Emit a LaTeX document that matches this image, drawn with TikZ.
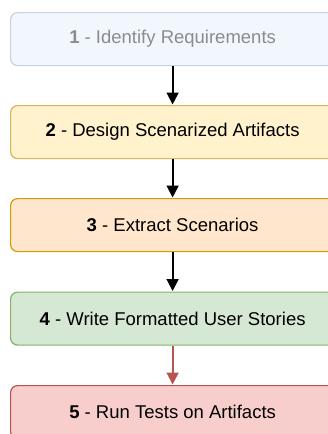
\documentclass[tikz,border=0pt]{standalone}
\usepackage{fontspec}
\setmainfont{Liberation Sans}
\usetikzlibrary{arrows.meta}
\definecolor{f1}{HTML}{DAE8FC}\definecolor{s1}{HTML}{6C8EBF}
\definecolor{f2}{HTML}{FFF2CC}\definecolor{s2}{HTML}{D6B656}
\definecolor{f3}{HTML}{FFE6CC}\definecolor{s3}{HTML}{D79B00}
\definecolor{f4}{HTML}{D5E8D4}\definecolor{s4}{HTML}{82B366}
\definecolor{f5}{HTML}{F8CECC}\definecolor{s5}{HTML}{B85450}
\begin{document}
\begin{tikzpicture}[x=1pt,y=1pt,
  box/.style={draw, line width=1.2pt, rounded corners=7pt, minimum width=324pt, minimum height=53pt,
    inner sep=0pt, font=\fontsize{18.5}{20}\selectfont, anchor=north west},
  conn/.style={-{Triangle[length=12pt,width=12pt]}, line width=1.8pt, shorten >=0.5pt}]
\useasboundingbox (0,0) rectangle (327,-434);
\node[box, draw=s1!40, fill=f1!35, text=black!45] (b1) at (10,-12) {\textbf{1} - Identify Requirements};
\node[box, draw=s2, fill=f2] (b2) at (10,-105) {\textbf{2} - Design Scenarized Artifacts};
\node[box, draw=s3, fill=f3] (b3) at (10,-198) {\textbf{3} - Extract Scenarios};
\node[box, draw=s4, fill=f4] (b4) at (10,-291.5) {\textbf{4} - Write Formatted User Stories};
\node[box, draw=s5, fill=f5] (b5) at (10,-385) {\textbf{5} - Run Tests on Artifacts};
\draw[conn] (b1.south) -- (b2.north);
\draw[conn] (b2.south) -- (b3.north);
\draw[conn] (b3.south) -- (b4.north);
\draw[conn, draw=s5, fill=s5] (b4.south) -- (b5.north);
\end{tikzpicture}
\end{document}
